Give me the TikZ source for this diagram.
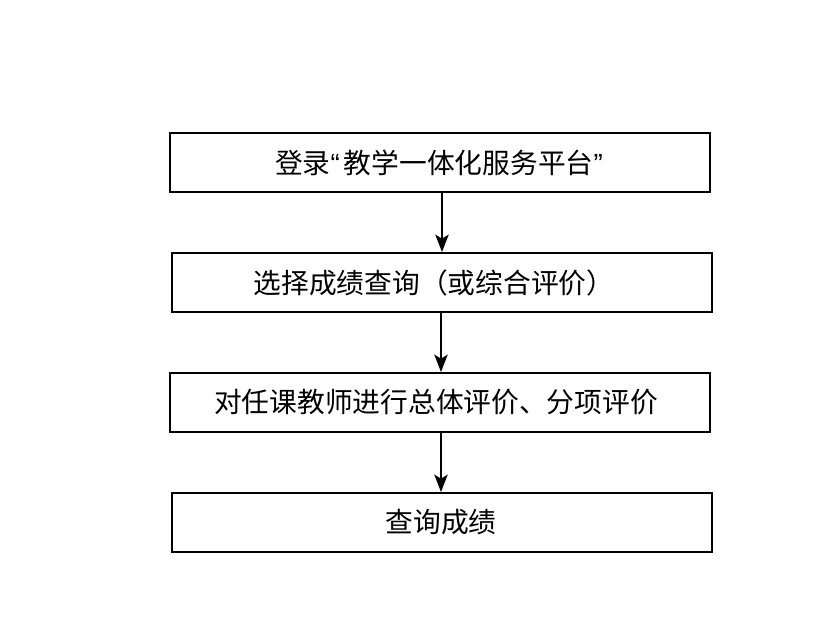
\documentclass[tikz,border=0pt]{standalone}
\usepackage{fontspec}
\newfontfamily\cjk{Noto Sans CJK SC}
\newfontfamily\qfont{Liberation Sans}
\usetikzlibrary{arrows.meta}
\begin{document}
\begin{tikzpicture}[x=0.75pt,y=-0.75pt,
  stepbox/.style={draw=black,line width=1.5pt,fill=white,minimum width=405pt,minimum height=44.25pt,inner sep=0pt},
  steptext/.style={inner sep=0pt,font=\cjk\fontsize{20.8pt}{24pt}\selectfont},
  flowarrow/.style={line width=1.5pt,-{Stealth[length=13pt,width=10pt,inset=3pt]}}]
\useasboundingbox[fill=white] (0,0) rectangle (840,630);
\node[stepbox] (a) at (440,162.5) {};
\node[stepbox] (b) at (442,282.5) {};
\node[stepbox] (c) at (440,402.5) {};
\node[stepbox] (d) at (442,522.5) {};
\node[steptext] (ta) at (439,162.5) {登录{\qfont “}\hspace{3pt}教学一体化服务平台{\qfont ”}};
\node[steptext] (tb) at (434,282.5) {选择成绩查询（或综合评价）};
\node[steptext] (tc) at (436,402.5) {对任课教师进行总体评价、分项评价};
\node[steptext] (td) at (441,522.5) {查询成绩};
\draw[flowarrow] (a.south -| 442,0) -- (b.north -| 442,0);
\draw[flowarrow] (b.south -| 441,0) -- (c.north -| 441,0);
\draw[flowarrow] (c.south -| 441,0) -- (d.north -| 441,0);
\end{tikzpicture}
\end{document}
